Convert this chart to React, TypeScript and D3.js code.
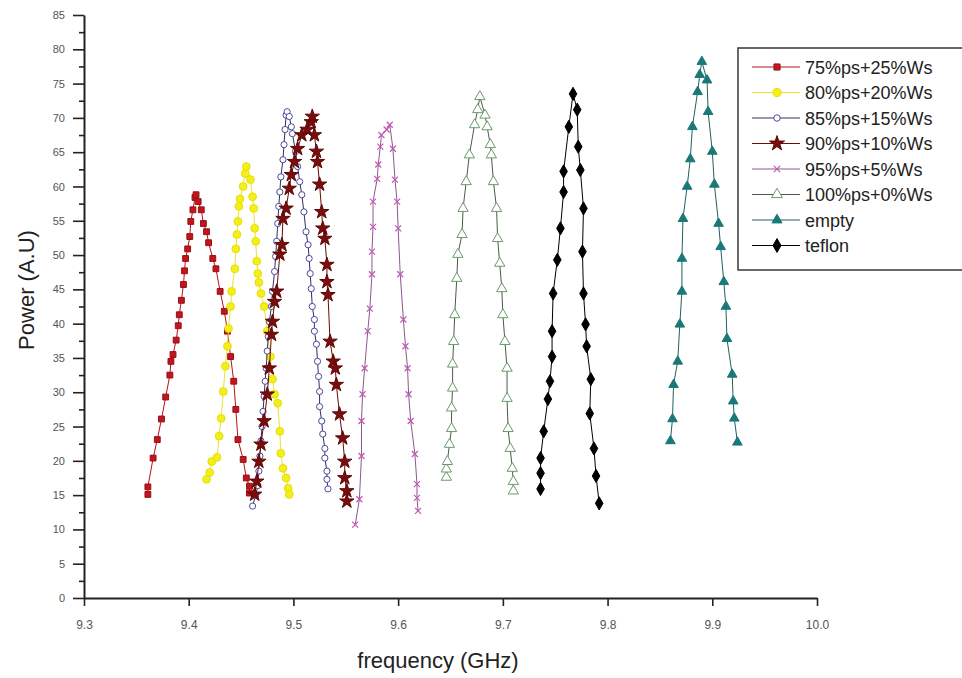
import React, { useEffect, useRef } from "react";
import * as d3 from "d3";

// frequency (GHz), power (A.U)
const s75: [number, number][] = [
  [9.361, 15.1], [9.361, 16.2], [9.366, 20.4], [9.370, 23.1], [9.374, 26.1], [9.378, 29.3],
  [9.382, 32.5], [9.383, 34.5], [9.385, 35.5], [9.388, 37.6], [9.390, 39.7], [9.391, 41.3],
  [9.393, 43.4], [9.395, 45.7], [9.396, 47.7], [9.397, 49.5], [9.399, 50.9], [9.401, 52.7],
  [9.402, 54.9], [9.404, 56.6], [9.406, 58.4], [9.407, 58.8], [9.409, 57.8], [9.412, 56.6],
  [9.414, 54.6], [9.417, 53.4], [9.419, 51.8], [9.423, 49.5], [9.426, 48.0], [9.430, 44.7],
  [9.434, 41.8], [9.437, 38.9], [9.440, 35.2], [9.443, 31.6], [9.445, 27.5], [9.447, 23.1],
  [9.452, 20.2], [9.455, 17.5], [9.458, 16.3], [9.458, 15.3],
];
const s80: [number, number][] = [
  [9.417, 17.3], [9.420, 18.3], [9.422, 19.9], [9.427, 20.5], [9.429, 23.6], [9.431, 26.2],
  [9.433, 30.1], [9.435, 33.8], [9.437, 36.7], [9.438, 39.3], [9.440, 42.5], [9.441, 44.7],
  [9.444, 48.0], [9.445, 50.9], [9.446, 53.0], [9.447, 54.9], [9.448, 57.1], [9.449, 58.2],
  [9.452, 60.0], [9.454, 61.9], [9.455, 62.9], [9.459, 61.0], [9.461, 58.5], [9.462, 56.8],
  [9.463, 53.9], [9.464, 52.0], [9.465, 49.1], [9.466, 47.3], [9.467, 46.0], [9.469, 44.4],
  [9.472, 42.5], [9.475, 38.9], [9.478, 35.2], [9.480, 31.9], [9.482, 29.7], [9.485, 28.4],
  [9.487, 24.3], [9.488, 21.1], [9.490, 18.9], [9.493, 17.5], [9.495, 16.0], [9.496, 15.1],
];
const s85: [number, number][] = [
  [9.461, 13.4], [9.464, 15.0], [9.466, 16.4], [9.467, 18.5], [9.468, 20.7], [9.469, 22.9],
  [9.470, 25.0], [9.471, 27.2], [9.472, 29.4], [9.473, 31.6], [9.474, 33.5], [9.475, 36.0],
  [9.476, 38.1], [9.477, 40.3], [9.479, 42.5], [9.480, 44.7], [9.482, 47.6], [9.483, 49.8],
  [9.484, 52.0], [9.485, 54.6], [9.486, 57.1], [9.487, 59.2], [9.488, 61.4], [9.490, 63.9],
  [9.491, 66.1], [9.492, 68.3], [9.493, 70.4], [9.494, 70.9], [9.496, 70.2], [9.498, 68.7],
  [9.499, 67.7], [9.502, 65.1], [9.504, 62.9], [9.506, 60.7], [9.508, 58.8], [9.510, 56.3],
  [9.512, 53.4], [9.514, 51.5], [9.515, 49.5], [9.516, 47.3], [9.517, 45.1], [9.518, 42.5],
  [9.520, 40.6], [9.520, 38.9], [9.522, 37.0], [9.523, 34.5], [9.524, 32.3], [9.525, 30.1],
  [9.525, 27.9], [9.527, 25.8], [9.528, 23.9], [9.530, 21.8], [9.530, 20.4], [9.532, 18.5],
  [9.532, 17.3], [9.533, 15.9],
];
const s90: [number, number][] = [
  [9.463, 15.1], [9.465, 17.0], [9.467, 19.9], [9.469, 22.4], [9.472, 25.8], [9.475, 29.7],
  [9.477, 33.5], [9.479, 38.4], [9.480, 40.3], [9.482, 43.2], [9.484, 44.7], [9.487, 50.1],
  [9.489, 51.5], [9.490, 55.3], [9.493, 56.8], [9.496, 59.7], [9.498, 61.7], [9.501, 63.6],
  [9.504, 65.5], [9.508, 67.5], [9.513, 68.3], [9.517, 69.4], [9.518, 70.2], [9.520, 67.5],
  [9.522, 65.1], [9.523, 63.6], [9.525, 60.3], [9.527, 56.3], [9.528, 53.9], [9.530, 52.4],
  [9.532, 48.6], [9.532, 46.1], [9.533, 44.2], [9.535, 37.4], [9.538, 34.5], [9.540, 33.5],
  [9.541, 31.1], [9.544, 26.8], [9.547, 23.3], [9.549, 19.9], [9.549, 17.5], [9.551, 15.6],
  [9.551, 14.1],
];
const s95: [number, number][] = [
  [9.559, 10.7], [9.563, 14.4], [9.565, 20.7], [9.565, 25.8], [9.566, 29.7], [9.568, 33.5],
  [9.571, 38.9], [9.573, 42.2], [9.575, 47.2], [9.575, 50.5], [9.576, 54.1], [9.576, 57.8],
  [9.580, 61.1], [9.581, 63.2], [9.583, 65.8], [9.584, 67.5], [9.589, 68.3], [9.592, 69.0],
  [9.595, 65.5], [9.597, 61.0], [9.599, 57.8], [9.600, 53.9], [9.602, 47.2], [9.605, 40.6],
  [9.607, 36.7], [9.609, 33.5], [9.610, 29.7], [9.612, 25.8], [9.616, 21.0], [9.618, 16.6],
  [9.618, 14.6], [9.619, 12.7],
];
const s100: [number, number][] = [
  [9.646, 17.6], [9.646, 18.8], [9.647, 19.9], [9.649, 22.4], [9.651, 24.7], [9.651, 27.7],
  [9.652, 30.6], [9.652, 34.1], [9.653, 37.4], [9.654, 41.3], [9.656, 46.6], [9.657, 50.1],
  [9.661, 53.0], [9.662, 56.8], [9.665, 60.7], [9.668, 64.6], [9.673, 69.0], [9.676, 71.2],
  [9.678, 73.1], [9.683, 70.4], [9.685, 68.7], [9.688, 66.1], [9.689, 64.6], [9.691, 60.7],
  [9.694, 56.8], [9.695, 52.4], [9.697, 48.8], [9.699, 45.1], [9.700, 41.3], [9.702, 37.4],
  [9.704, 33.5], [9.704, 29.1], [9.705, 24.7], [9.707, 21.8], [9.709, 18.9], [9.710, 17.0],
  [9.710, 15.6],
];
const sEmpty: [number, number][] = [
  [9.860, 22.9], [9.862, 26.1], [9.863, 31.1], [9.867, 34.5], [9.869, 39.9], [9.871, 44.7],
  [9.871, 49.5], [9.872, 55.3], [9.876, 60.0], [9.879, 64.0], [9.881, 68.7], [9.886, 73.8],
  [9.888, 76.3], [9.890, 78.2], [9.895, 75.5], [9.896, 70.9], [9.900, 65.1], [9.902, 60.3],
  [9.906, 54.6], [9.908, 51.2], [9.911, 46.1], [9.913, 42.5], [9.914, 37.8], [9.919, 32.6],
  [9.920, 28.7], [9.921, 26.2], [9.924, 22.7],
];
const sTeflon: [number, number][] = [
  [9.736, 15.9], [9.736, 18.2], [9.736, 20.4], [9.739, 24.3], [9.743, 29.0], [9.745, 31.6],
  [9.747, 35.2], [9.747, 38.9], [9.748, 44.4], [9.752, 49.3], [9.755, 53.9], [9.758, 59.2],
  [9.758, 62.2], [9.763, 68.7], [9.767, 73.5], [9.771, 71.2], [9.772, 65.8], [9.774, 62.4],
  [9.777, 56.8], [9.776, 50.5], [9.777, 44.4], [9.779, 39.9], [9.780, 36.7], [9.784, 31.9],
  [9.783, 26.9], [9.787, 21.8], [9.789, 17.8], [9.792, 13.8],
];

const names = [
  "75%ps+25%Ws", "80%ps+20%Ws", "85%ps+15%Ws", "90%ps+10%Ws",
  "95%ps+5%Ws", "100%ps+0%Ws", "empty", "teflon",
];
const seriesData = [s75, s80, s85, s90, s95, s100, sEmpty, sTeflon];

// thin "x" marker
const symbolThinX: d3.SymbolType = {
  draw(ctx, size) {
    const r = Math.sqrt(size) / 2;
    ctx.moveTo(-r, -r);
    ctx.lineTo(r, r);
    ctx.moveTo(r, -r);
    ctx.lineTo(-r, r);
  },
};

type Style = { line: string; fill: string; stroke: string; shape: d3.SymbolType; size: number };
const styles: Style[] = [
  { line: "#b5121b", fill: "#c0161c", stroke: "#9a1016", shape: d3.symbolSquare, size: 34 },
  { line: "#e8e430", fill: "#f4ef1c", stroke: "#e6e000", shape: d3.symbolCircle, size: 48 },
  { line: "#303060", fill: "#ffffff", stroke: "#4a4a9c", shape: d3.symbolCircle, size: 30 },
  { line: "#6a0a0a", fill: "#7a0c0c", stroke: "#5e0808", shape: d3.symbolStar, size: 64 },
  { line: "#8a5a8a", fill: "none", stroke: "#c058b4", shape: symbolThinX, size: 36 },
  { line: "#4a5a4a", fill: "#ffffff", stroke: "#6a9a6a", shape: d3.symbolTriangle, size: 46 },
  { line: "#1f6060", fill: "#1a7878", stroke: "#1a7878", shape: d3.symbolTriangle, size: 40 },
  { line: "#000000", fill: "#000000", stroke: "#000000", shape: d3.symbolDiamond, size: 50 },
];

const W = 962;
const H = 678;

export default function App() {
  const ref = useRef<SVGSVGElement>(null);

  useEffect(() => {
    const svg = d3.select(ref.current);
    svg.selectAll("*").remove();

    const x = d3.scaleLinear().domain([9.3, 10.0]).range([84, 817]);
    const y = d3.scaleLinear().domain([0, 85]).range([598, 15]);

    const font = "'Liberation Sans', Arial, sans-serif";

    // y axis, major + minor ticks
    const major = d3.range(0, 86, 5);
    const minor = d3.range(2.5, 85, 5);
    const yMinor = svg.append("g").attr("transform", "translate(84,0)")
      .call(d3.axisLeft(y).tickValues(minor).tickSize(5).tickSizeOuter(0).tickFormat(() => ""));
    yMinor.select(".domain").remove();
    const yAxis = svg.append("g").attr("transform", "translate(84,0)")
      .call(d3.axisLeft(y).tickValues(major).tickSize(11).tickSizeOuter(0).tickPadding(8));
    svg.selectAll("g line").attr("stroke", "#222").attr("stroke-width", 1.6);
    yAxis.select(".domain").attr("stroke", "#222").attr("stroke-width", 2);
    yAxis.selectAll("text").attr("font-family", font).attr("font-size", 11).attr("fill", "#555");

    // x axis
    const xAxis = svg.append("g").attr("transform", "translate(0,598)")
      .call(d3.axisBottom(x).ticks(7).tickSize(8).tickSizeOuter(0).tickPadding(14).tickFormat(d3.format(".1f")));
    xAxis.select(".domain").attr("stroke", "#222").attr("stroke-width", 2);
    xAxis.selectAll("line").attr("stroke", "#222").attr("stroke-width", 1.6);
    xAxis.selectAll("text").attr("font-family", font).attr("font-size", 12).attr("fill", "#555");

    // titles
    svg.append("text").attr("x", 438).attr("y", 668).attr("text-anchor", "middle")
      .attr("font-family", font).attr("font-size", 22).attr("fill", "#222").text("frequency (GHz)");
    svg.append("text").attr("transform", "translate(34,290) rotate(-90)").attr("text-anchor", "middle")
      .attr("font-family", font).attr("font-size", 22).attr("fill", "#222").text("Power (A.U)");

    const line = d3.line<[number, number]>().x(d => x(d[0])).y(d => y(d[1]));

    seriesData.forEach((data, i) => {
      const st = styles[i];
      const g = svg.append("g");
      g.append("path").datum(data).attr("d", line).attr("fill", "none")
        .attr("stroke", st.line).attr("stroke-width", 1);
      const sym = d3.symbol().type(st.shape).size(st.size);
      g.selectAll("path.m").data(data).enter().append("path").attr("class", "m")
        .attr("d", sym)
        .attr("transform", d => `translate(${x(d[0])},${y(d[1])})`)
        .attr("fill", st.fill).attr("stroke", st.stroke).attr("stroke-width", st.fill === "none" ? 1.2 : 1);
    });

    // legend
    const lg = svg.append("g");
    lg.append("rect").attr("x", 738).attr("y", 48).attr("width", 230).attr("height", 222)
      .attr("fill", "#fff").attr("stroke", "#444").attr("stroke-width", 1.6);
    names.forEach((name, i) => {
      const st = styles[i];
      const ry = 67 + i * 25.5;
      lg.append("line").attr("x1", 752).attr("x2", 800).attr("y1", ry).attr("y2", ry)
        .attr("stroke", st.line).attr("stroke-width", 1);
      lg.append("path").attr("d", d3.symbol().type(st.shape).size(st.size * 1.1)())
        .attr("transform", `translate(777,${ry})`)
        .attr("fill", st.fill).attr("stroke", st.stroke).attr("stroke-width", st.fill === "none" ? 1.2 : 1);
      lg.append("text").attr("x", 805).attr("y", ry + 6.5).attr("font-family", font)
        .attr("font-size", 18).attr("fill", "#222").text(name);
    });
  }, []);

  return (
    <svg ref={ref} width={W} height={H}
      style={{ position: "absolute", left: 0, top: 0, background: "#fff" }} />
  );
}
